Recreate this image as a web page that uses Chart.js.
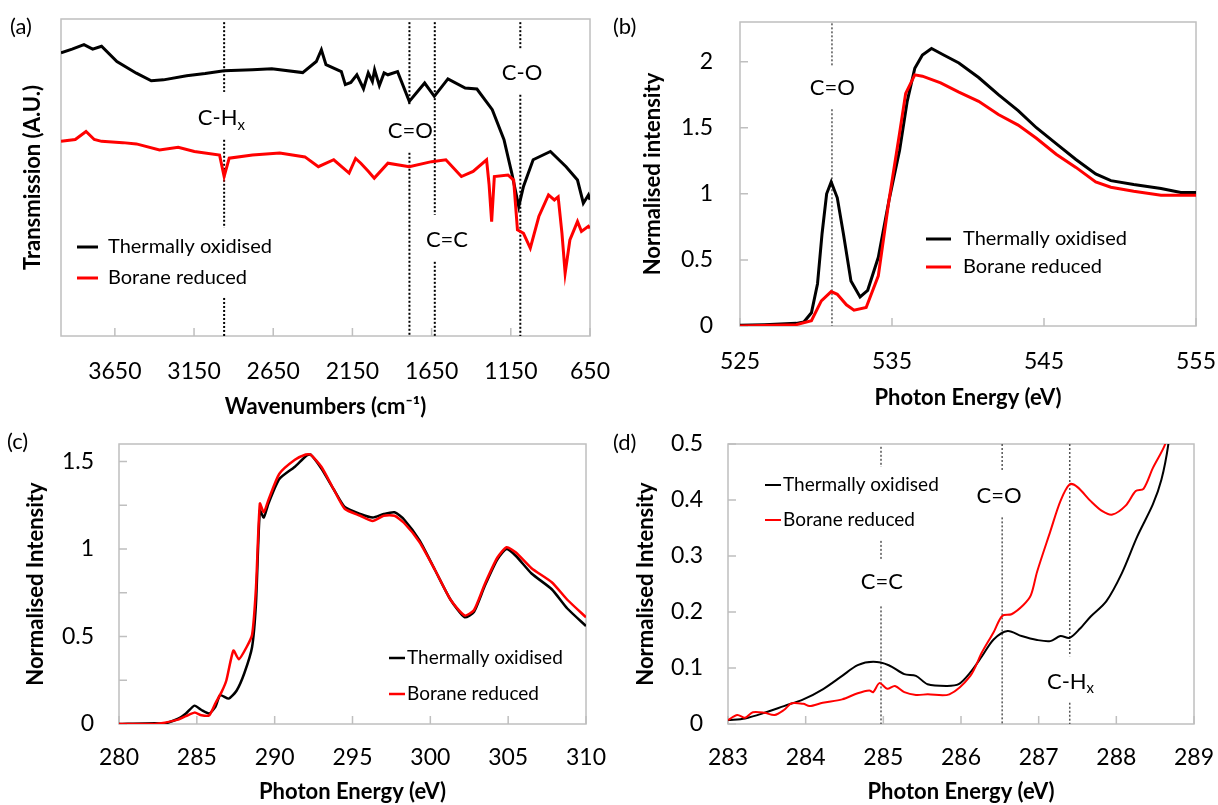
<!DOCTYPE html>
<html>
<head>
<meta charset="utf-8">
<script src="https://cdn.jsdelivr.net/npm/chart.js@4.4.0/dist/chart.umd.min.js"></script>
<style>
  body { margin: 0; background: #fff; width: 1218px; height: 805px; position: relative; overflow: hidden; }
  canvas { position: absolute; }
</style>
</head>
<body>
<canvas id="ca" width="610" height="420" style="left:0;top:0"></canvas>
<canvas id="cb" width="608" height="420" style="left:610px;top:0"></canvas>
<canvas id="cc" width="610" height="385" style="left:0;top:420px"></canvas>
<canvas id="cd" width="608" height="385" style="left:610px;top:420px"></canvas>
<script>
// ---- (a) FTIR, transmission in arbitrary units ----
const aWaveBlack = [3990, 3920, 3845, 3790, 3734, 3637, 3514, 3420, 3343, 3197, 3080, 2960, 2781, 2659, 2464, 2378, 2346, 2317, 2220, 2195, 2160, 2122, 2080, 2050, 2024, 2010, 1980, 1950, 1926, 1865, 1791, 1694, 1633, 1547, 1438, 1364, 1267, 1193, 1144, 1100, 1070, 1009, 900, 801, 729, 692, 660, 650];
const aBlack = [89.3, 90.5, 91.9, 90.5, 91.4, 86.6, 82.9, 80.5, 80.8, 82.1, 82.8, 83.7, 84.0, 84.3, 83.1, 86.6, 90.3, 85.6, 83.4, 79.3, 80.0, 82.4, 78.0, 83.0, 80.3, 84.0, 79.0, 83.0, 82.4, 83.4, 74.0, 79.8, 75.6, 81.1, 78.2, 77.9, 71.4, 61.9, 51.4, 40.8, 47.2, 55.6, 58.2, 53.4, 49.2, 41.9, 44.5, 43.0];
const aWaveRed = [3990, 3900, 3832, 3780, 3734, 3600, 3514, 3368, 3250, 3148, 2989, 2960, 2928, 2781, 2609, 2450, 2365, 2268, 2171, 2130, 2097, 2050, 2012, 1926, 1791, 1650, 1560, 1462, 1388, 1303, 1287, 1271, 1254, 1168, 1132, 1108, 1070, 1027, 973, 912, 875, 851, 827, 807, 777, 729, 704, 660, 650];
const aRed = [61.4, 62.0, 64.5, 62.0, 61.4, 61.0, 60.6, 58.7, 59.5, 58.2, 57.1, 50.3, 56.1, 57.1, 57.7, 56.5, 53.4, 55.6, 51.4, 56.0, 54.5, 52.0, 49.8, 54.5, 53.4, 55.0, 55.6, 50.3, 51.9, 55.6, 47.7, 36.1, 50.3, 50.8, 49.2, 33.5, 32.4, 27.7, 37.7, 44.5, 42.9, 43.9, 32.4, 19.8, 30.3, 36.1, 33.0, 34.6, 34.0];
const aTicksX = [650, 1150, 1650, 2150, 2650, 3150, 3650];
const aMarkX = [2960, 1790, 1630, 1090];
const aMarkText = ['C-H', 'C=O', 'C=C', 'C-O'];
const aMarkSub = ['x', '', '', ''];

// ---- (b) O K-edge NEXAFS ----
const bEnergyBlack = [525, 526.6, 528.7, 529.2, 529.7, 530.1, 530.4, 530.7, 531.0, 531.4, 531.8, 532.3, 532.9, 533.4, 534.1, 534.8, 535.5, 536.0, 536.5, 537.0, 537.6, 538.4, 539.4, 540.7, 542.0, 543.3, 544.5, 545.8, 547.1, 548.4, 549.4, 550.9, 552.7, 554.0, 555];
const bBlack = [0.005, 0.01, 0.02, 0.03, 0.1, 0.32, 0.7, 1.0, 1.09, 0.97, 0.7, 0.34, 0.22, 0.27, 0.52, 0.95, 1.33, 1.70, 1.95, 2.05, 2.10, 2.05, 1.99, 1.88, 1.75, 1.63, 1.50, 1.38, 1.26, 1.15, 1.10, 1.07, 1.04, 1.01, 1.01];
const bEnergyRed = [525, 528.7, 529.7, 530.35, 531.0, 531.4, 532.0, 532.5, 533.3, 534.1, 534.8, 535.5, 535.9, 536.5, 537.0, 538.2, 539.4, 540.7, 542.0, 543.3, 544.5, 545.8, 547.1, 548.4, 549.4, 550.9, 552.7, 554.0, 555];
const bRed = [0, 0.01, 0.04, 0.19, 0.26, 0.24, 0.16, 0.12, 0.14, 0.38, 0.95, 1.46, 1.76, 1.90, 1.89, 1.84, 1.77, 1.70, 1.60, 1.52, 1.42, 1.30, 1.20, 1.09, 1.05, 1.02, 0.99, 0.99, 0.99];
const bTicksX = [525, 535, 545, 555];
const bTicksY = [0, 0.5, 1, 1.5, 2];
const bMarkX = [531.05];
const bMarkText = ['C=O'];

// ---- (c) C K-edge NEXAFS ----
const cEnergyBlack = [280, 282.3, 282.8, 283.8, 284.3, 284.85, 285.3, 285.8, 286.2, 286.5, 287.05, 287.55, 288.05, 288.55, 288.8, 289.05, 289.3, 289.6, 290.3, 291.3, 292.0, 292.3, 293.0, 293.8, 294.5, 295.5, 296.3, 297.0, 297.7, 298.3, 299.3, 300.3, 301.3, 302.2, 302.8, 303.5, 304.3, 304.9, 305.5, 306.5, 307.8, 308.8, 310];
const cBlack = [0, 0.005, 0, 0.03, 0.06, 0.105, 0.08, 0.06, 0.10, 0.165, 0.145, 0.19, 0.29, 0.44, 0.69, 1.22, 1.18, 1.26, 1.40, 1.47, 1.53, 1.54, 1.46, 1.34, 1.24, 1.20, 1.18, 1.20, 1.21, 1.17, 1.05, 0.88, 0.71, 0.61, 0.64, 0.79, 0.94, 1.00, 0.96, 0.86, 0.77, 0.66, 0.56];
const cEnergyRed = [280, 282.3, 283.8, 284.3, 284.85, 285.3, 285.8, 286.2, 286.6, 286.9, 287.35, 287.7, 288.2, 288.55, 288.8, 289.05, 289.3, 289.6, 290.3, 291.3, 292.0, 292.3, 293.0, 293.8, 294.5, 295.5, 296.3, 297.0, 297.7, 298.3, 299.3, 300.3, 301.3, 302.2, 302.8, 303.5, 304.3, 304.9, 305.5, 306.5, 307.8, 308.8, 310];
const cRed = [0, 0, 0.025, 0.045, 0.065, 0.05, 0.05, 0.12, 0.185, 0.25, 0.42, 0.37, 0.44, 0.51, 0.78, 1.26, 1.21, 1.28, 1.43, 1.51, 1.54, 1.54, 1.47, 1.34, 1.23, 1.19, 1.16, 1.19, 1.19, 1.15, 1.04, 0.88, 0.71, 0.62, 0.65, 0.80, 0.95, 1.01, 0.98, 0.89, 0.81, 0.71, 0.61];
const cTicksX = [280, 285, 290, 295, 300, 305, 310];
const cTicksY = [0, 0.25, 0.5, 0.75, 1, 1.25, 1.5];

// ---- (d) C K-edge pre-edge zoom ----
const dEnergyBlack = [283.0, 283.22, 283.47, 283.72, 283.97, 284.22, 284.47, 284.67, 284.87, 285.07, 285.27, 285.42, 285.57, 285.82, 285.97, 286.12, 286.27, 286.42, 286.6, 286.78, 286.98, 287.15, 287.28, 287.4, 287.53, 287.67, 287.87, 288.07, 288.27, 288.47, 288.58, 288.67, 288.75];
const dBlack = [0.007, 0.01, 0.02, 0.032, 0.044, 0.062, 0.086, 0.105, 0.111, 0.105, 0.089, 0.086, 0.071, 0.068, 0.071, 0.092, 0.121, 0.151, 0.166, 0.157, 0.150, 0.148, 0.157, 0.154, 0.170, 0.192, 0.219, 0.269, 0.335, 0.392, 0.436, 0.5, 0.6];
const dEnergyRed = [283.0, 283.12, 283.22, 283.32, 283.47, 283.6, 283.72, 283.82, 283.97, 284.05, 284.22, 284.47, 284.67, 284.82, 284.87, 284.95, 285.05, 285.15, 285.27, 285.42, 285.57, 285.85, 286.12, 286.27, 286.42, 286.53, 286.65, 286.8, 286.9, 286.98, 287.15, 287.28, 287.4, 287.5, 287.67, 287.82, 287.95, 288.12, 288.25, 288.35, 288.47, 288.63, 288.72];
const dRed = [0.007, 0.016, 0.011, 0.021, 0.02, 0.016, 0.025, 0.037, 0.036, 0.032, 0.038, 0.044, 0.055, 0.06, 0.057, 0.073, 0.063, 0.068, 0.057, 0.052, 0.053, 0.053, 0.086, 0.128, 0.164, 0.193, 0.196, 0.212, 0.23, 0.272, 0.344, 0.398, 0.428, 0.423, 0.398, 0.38, 0.374, 0.39, 0.416, 0.42, 0.457, 0.5, 0.55];
const dTicksX = [283, 284, 285, 286, 287, 288, 289];
const dTicksY = [0, 0.1, 0.2, 0.3, 0.4, 0.5];
const dMarkX = [284.97, 286.53, 287.4];
const dMarkText = ['C=C', 'C=O', 'C-H'];
const dMarkSub = ['', '', 'x'];

const seriesNames = ['Thermally oxidised', 'Borane reduced'];

const family = 'Lato, "Open Sans", sans-serif';
Chart.defaults.font.family = family;
Chart.defaults.color = '#000';
Chart.defaults.animation = false;

function pts(xs, ys) {
  return xs.map((v, i) => ({ x: v, y: ys[i] }));
}

function setTicks(list) {
  return function (scale) { scale.ticks = list.map(v => ({ value: v })); };
}

// frame, inside tick marks, dotted marker lines, peak labels, legend, panel letter
function makeDeco(cfg) {
  return {
    id: 'deco',
    beforeDatasetsDraw(chart) {
      const { ctx, chartArea: a, scales: { x, y } } = chart;
      ctx.save();
      ctx.strokeStyle = '#bfbfbf';
      ctx.lineWidth = 1.5;
      ctx.strokeRect(a.left, a.top, a.right - a.left, a.bottom - a.top);
      ctx.beginPath();
      x.ticks.forEach(t => {
        const p = x.getPixelForValue(t.value);
        ctx.moveTo(p, a.bottom); ctx.lineTo(p, a.bottom - 8);
      });
      if (cfg.yTicks) {
        y.ticks.forEach(t => {
          const p = y.getPixelForValue(t.value);
          ctx.moveTo(a.left, p); ctx.lineTo(a.left + 8, p);
        });
      }
      ctx.stroke();
      ctx.strokeStyle = cfg.dotColor;
      ctx.lineWidth = cfg.dotWidth;
      ctx.setLineDash([2, 2]);
      cfg.marks.forEach(m => {
        const px = x.getPixelForValue(m.x);
        m.segs.forEach(s => {
          ctx.beginPath();
          ctx.moveTo(px, y.getPixelForValue(s[0]));
          ctx.lineTo(px, y.getPixelForValue(s[1]));
          ctx.stroke();
        });
      });
      ctx.restore();
    },
    afterDatasetsDraw(chart) {
      const { ctx, scales: { x, y } } = chart;
      ctx.save();
      ctx.fillStyle = '#000';
      ctx.textBaseline = 'middle';
      ctx.textAlign = 'left';
      cfg.marks.forEach(m => {
        ctx.font = '22px ' + family;
        const w1 = ctx.measureText(m.text).width;
        ctx.font = '15px ' + family;
        const w2 = m.sub ? ctx.measureText(m.sub).width : 0;
        const cx = x.getPixelForValue(m.lx), cy = y.getPixelForValue(m.ly);
        const x0 = cx - (w1 + w2) / 2;
        ctx.font = '22px ' + family;
        ctx.fillText(m.text, x0, cy);
        if (m.sub) {
          ctx.font = '15px ' + family;
          ctx.fillText(m.sub, x0 + w1, cy + 7);
        }
      });
      const L = cfg.legend;
      chart.data.datasets.forEach((ds, i) => {
        const yy = L.y + i * L.dy;
        ctx.strokeStyle = ds.borderColor;
        ctx.lineWidth = L.lw;
        ctx.beginPath(); ctx.moveTo(L.x, yy); ctx.lineTo(L.x + L.len, yy); ctx.stroke();
        ctx.font = L.size + 'px ' + family;
        ctx.fillText(ds.label, L.x + L.len + L.gap, yy);
      });
      ctx.font = '22px ' + family;
      ctx.fillText(cfg.letter, cfg.letterX, cfg.letterY);
      ctx.restore();
    }
  };
}

function makeChart(id, o) {
  return new Chart(document.getElementById(id), {
    type: 'line',
    data: {
      datasets: [
        { label: seriesNames[0], data: o.black, borderColor: '#000000', borderWidth: o.lw, pointRadius: 0, tension: o.tension, order: 1 },
        { label: seriesNames[1], data: o.red, borderColor: '#ff0000', borderWidth: o.lw, pointRadius: 0, tension: o.tension, order: 0 }
      ]
    },
    options: {
      responsive: false,
      devicePixelRatio: 1,
      parsing: false,
      layout: { padding: o.pad },
      plugins: { legend: { display: false }, tooltip: { enabled: false } },
      scales: {
        x: {
          type: 'linear', reverse: !!o.reverse, min: o.xmin, max: o.xmax,
          grid: { display: false, drawTicks: false }, border: { display: false },
          afterBuildTicks: setTicks(o.xTicks),
          // fixed axis box, no extra room for edge labels
          afterFit: s => { s.height = o.xh; s.paddingLeft = 0; s.paddingRight = 0; },
          ticks: { font: { size: 23 }, padding: o.xpad, autoSkip: false, maxRotation: 0, callback: v => String(v) },
          title: { display: true, text: o.xTitle, font: { size: 22, weight: 'bold' }, padding: { top: 0, bottom: o.xtpad } }
        },
        y: {
          type: 'linear', min: o.ymin, max: o.ymax,
          grid: { display: false, drawTicks: false }, border: { display: false },
          afterBuildTicks: setTicks(o.yTicks),
          afterFit: s => { s.width = o.yw; s.paddingTop = 0; s.paddingBottom = 0; },
          ticks: { display: o.yLabels, font: { size: 23 }, padding: o.ypad, autoSkip: false,
                   callback: v => (Math.round(v * 2) === v * 2 || o.allLabels) ? String(v) : '' },
          title: { display: true, text: o.yTitle, font: { size: 22, weight: 'bold' }, padding: { top: o.ytpad, bottom: 0 } }
        }
      }
    },
    plugins: [makeDeco(o.deco)]
  });
}

// (a)
makeChart('ca', {
  black: pts(aWaveBlack, aBlack), red: pts(aWaveRed, aRed), lw: 3, tension: 0,
  pad: { top: 19, right: 20, left: 0, bottom: 0 },
  reverse: true, xmin: 650, xmax: 3990, xTicks: aTicksX, xh: 84, xpad: 22, xtpad: 0,
  xTitle: 'Wavenumbers (cm\u207B\u00B9)',
  ymin: 0, ymax: 100, yTicks: [], yLabels: false, yw: 61, ypad: 0, ytpad: 20,
  yTitle: 'Transmission (A.U.)',
  deco: {
    yTicks: false, dotColor: '#000', dotWidth: 2,
    marks: [
      { x: aMarkX[0], text: aMarkText[0], sub: aMarkSub[0], segs: [[99, 77], [61.9, 34.1], [12, 0]], lx: 2977, ly: 68.8 },
      { x: aMarkX[1], text: aMarkText[1], sub: aMarkSub[1], segs: [[99, 72.6], [57.8, 0]], lx: 1785, ly: 64.7 },
      { x: aMarkX[2], text: aMarkText[2], sub: aMarkSub[2], segs: [[99, 38.2], [23.4, 0]], lx: 1553, ly: 30.3 },
      { x: aMarkX[3], text: aMarkText[3], sub: aMarkSub[3], segs: [[99, 90.3], [76.1, 0]], lx: 1079, ly: 83 }
    ],
    legend: { x: 77, y: 247, dy: 31, len: 21, gap: 10, size: 20, lw: 3 },
    letter: '(a)', letterX: 10, letterY: 27
  }
});

// (b)
makeChart('cb', {
  black: pts(bEnergyBlack, bBlack), red: pts(bEnergyRed, bRed), lw: 3, tension: 0,
  pad: { top: 22, right: 22, left: 0, bottom: 0 },
  xmin: 525, xmax: 555, xTicks: bTicksX, xh: 94, xpad: 22, xtpad: 9,
  xTitle: 'Photon Energy (eV)',
  ymin: 0, ymax: 2.3, yTicks: bTicksY, yLabels: true, yw: 130, ypad: 27, ytpad: 30,
  yTitle: 'Normalised intensity',
  deco: {
    yTicks: true, dotColor: '#555', dotWidth: 1.5,
    marks: [
      { x: bMarkX[0], text: bMarkText[0], sub: '', segs: [[2.29, 1.97], [1.64, 0]], lx: 531.07, ly: 1.805 }
    ],
    legend: { x: 316, y: 239, dy: 28, len: 25, gap: 12, size: 20, lw: 3 },
    letter: '(b)', letterX: 3, letterY: 27
  }
});

// (c)
makeChart('cc', {
  black: pts(cEnergyBlack, cBlack), red: pts(cEnergyRed, cRed), lw: 2.5, tension: 0.2,
  pad: { top: 24, right: 24, left: 0, bottom: 0 },
  xmin: 280, xmax: 310, xTicks: cTicksX, xh: 81, xpad: 20, xtpad: 0,
  xTitle: 'Photon Energy (eV)',
  ymin: 0, ymax: 1.6, yTicks: cTicksY, yLabels: true, yw: 119, ypad: 25, ytpad: 23,
  yTitle: 'Normalised Intensity',
  deco: {
    yTicks: true, dotColor: '#555', dotWidth: 1.5, marks: [],
    legend: { x: 389, y: 238, dy: 36, len: 16, gap: 2, size: 19, lw: 2.5 },
    letter: '(c)', letterX: 7, letterY: 22
  }
});

// (d)
makeChart('cd', {
  black: pts(dEnergyBlack, dBlack), red: pts(dEnergyRed, dRed), lw: 2, tension: 0.3,
  pad: { top: 24, right: 24, left: 0, bottom: 0 },
  xmin: 283, xmax: 289, xTicks: dTicksX, xh: 81, xpad: 20, xtpad: 0,
  xTitle: 'Photon Energy (eV)',
  ymin: 0, ymax: 0.5, yTicks: dTicksY, yLabels: true, yw: 118, ypad: 25, ytpad: 23, allLabels: true,
  yTitle: 'Normalised Intensity',
  deco: {
    yTicks: true, dotColor: '#555', dotWidth: 1.5,
    marks: [
      { x: dMarkX[0], text: dMarkText[0], sub: dMarkSub[0], segs: [[0.495, 0.459], [0.327, 0.291], [0.21, 0]], lx: 284.98, ly: 0.253 },
      { x: dMarkX[1], text: dMarkText[1], sub: dMarkSub[1], segs: [[0.5, 0.452], [0.369, 0]], lx: 286.49, ly: 0.407 },
      { x: dMarkX[2], text: dMarkText[2], sub: dMarkSub[2], segs: [[0.5, 0.121], [0.038, 0]], lx: 287.41, ly: 0.076 }
    ],
    legend: { x: 155, y: 65, dy: 35, len: 16, gap: 2, size: 19, lw: 2 },
    letter: '(d)', letterX: 3, letterY: 23
  }
});
</script>
</body>
</html>
